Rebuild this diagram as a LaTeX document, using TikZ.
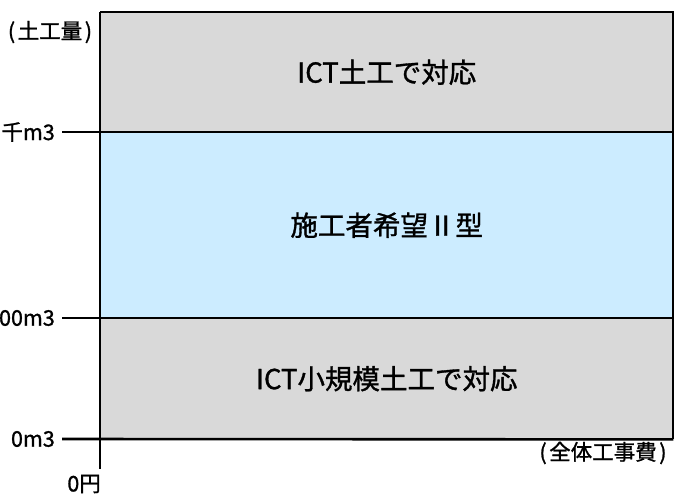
\documentclass[tikz,border=0pt]{standalone}
\usepackage{fontspec}
\setmainfont{Noto Sans CJK JP}[BoldFont=Noto Sans CJK JP, BoldFeatures={FakeBold=1.2}]
\definecolor{boxgray}{RGB}{217,217,217}
\definecolor{boxblue}{RGB}{204,236,255}
\begin{document}
\begin{tikzpicture}[x=1pt,y=-1pt,
  region/.style={draw=none, inner sep=0pt, minimum width=573pt, anchor=north west,
                 font=\fontsize{27.5}{30}\selectfont\bfseries},
  axlabel/.style={inner sep=0pt, font=\fontsize{21.5}{24}\selectfont\bfseries},
  axisline/.style={line width=2.6pt, black}]
\useasboundingbox (0,0) rectangle (674,496);
% regions
\node[region, fill=boxgray, minimum height=120pt] (top) at (100,12) {ICT土工で対応};
\node[region, fill=boxblue, minimum height=186pt] (mid) at (100,132) {施工者希望Ⅱ型};
\node[region, fill=boxgray, minimum height=121pt] (bot) at (100,318) {ICT小規模土工で対応};
% tick start points
\coordinate (t1) at (62,132);
\coordinate (t2) at (62,318);
\coordinate (t3) at (62,439);
\coordinate (yend) at (100,469);
% lines
\draw[axisline] (t1) -- (mid.north east);
\draw[axisline] (t2) -- (bot.north east);
\draw[axisline] (t3) -- (bot.south east);
\draw[axisline] (top.north west) -- (top.north east) -- (bot.south east);
\draw[axisline] (top.north west) -- (yend);
% labels
\node[axlabel] (ylab) at (50,32) {(\kern0.12em土工量\kern0.12em)};
\node[axlabel, anchor=east] (l1) at ([xshift=-7pt]t1) {千m3};
\node[axlabel, anchor=east] (l2) at ([xshift=-7pt]t2) {00m3};
\node[axlabel, anchor=east] (l3) at ([xshift=-7pt]t3) {0m3};
\node[axlabel, anchor=east] (l0) at (101,484) {0円};
\node[axlabel] (xlab) at (603,453) {(\kern0.12em全体工事費\kern0.12em)};
\end{tikzpicture}
\end{document}
